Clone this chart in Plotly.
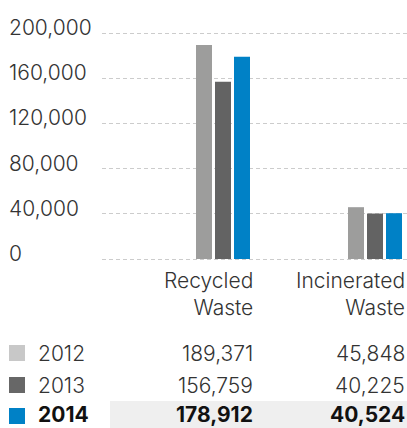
import plotly.graph_objects as go

# Waste volumes by year and category
categories = ["Recycled Waste", "Incinerated Waste"]
category_lines = [["Recycled", "Waste"], ["Incinerated", "Waste"]]
years = ["2012", "2013", "2014"]
values_2012 = [189371, 45848]
values_2013 = [156759, 40225]
values_2014 = [178912, 40524]
y_ticks = [0, 40000, 80000, 120000, 160000, 200000]

series = [values_2012, values_2013, values_2014]
bar_colors = ["#9d9d9c", "#636363", "#0081c6"]
swatch_colors = ["#c8c8c8", "#676767", "#0081c6"]

W, H = 407, 428
L = 102
ZERO_PX, TOP_PX = 259, 33          # pixel rows of the 0 and 200,000 gridlines
PAD = 3                            # extra room so edge gridlines are drawn
UNIT = 200000 / (ZERO_PX - TOP_PX)
T = TOP_PX - PAD
PLOT_H = ZERO_PX - TOP_PX + 2 * PAD
B = H - T - PLOT_H
PLOT_W = W - L
FONT = "Inter"
TXT = "#333333"
SIZE = 21


def px_x(px):
    return (px - L) / PLOT_W


def px_y(py):
    return (T + PLOT_H - py) / PLOT_H


fig = go.Figure()
for yr, vals, col in zip(years, series, bar_colors):
    fig.add_bar(x=[0, 1], y=vals, name=yr, marker=dict(color=col, line=dict(width=0)))

annotations = []
# y tick labels, left aligned, sitting on their gridlines
for t in y_ticks:
    annotations.append(dict(
        x=px_x(7), xref="paper", y=t, yref="y", text=f"{t:,}",
        xanchor="left", yanchor="bottom", yshift=-9, showarrow=False,
        font=dict(family=FONT, size=SIZE, color=TXT, weight=300)))

# category headers, right aligned under each group
for i, lines in enumerate(category_lines):
    annotations.append(dict(
        x=i, xref="x", y=px_y(294), yref="paper", text="<br>".join(lines),
        xanchor="right", yanchor="middle", align="right", xshift=32,
        showarrow=False,
        font=dict(family=FONT, size=SIZE, color=TXT, weight=300)))

# table rows
row_centers = [353, 385, 415]
shapes = [dict(type="rect", xref="paper", yref="paper",
               x0=px_x(110), x1=1.0, y0=px_y(428), y1=px_y(401),
               fillcolor="#efefef", line=dict(width=0), layer="below")]
for r, (yr, vals, sw) in enumerate(zip(years, series, swatch_colors)):
    cy = row_centers[r]
    bold = r == len(years) - 1
    weight = 700 if bold else 300
    color = "#111111" if bold else TXT
    sq = cy + 1 if bold else cy
    shapes.append(dict(type="rect", xref="paper", yref="paper",
                       x0=px_x(9), x1=px_x(25), y0=px_y(sq + 8), y1=px_y(sq - 8),
                       fillcolor=sw, line=dict(width=0)))
    annotations.append(dict(
        x=px_x(36), xref="paper", y=px_y(cy), yref="paper", text=yr,
        xanchor="left", yanchor="middle", showarrow=False,
        font=dict(family=FONT, size=SIZE, color=color, weight=weight)))
    for i, v in enumerate(vals):
        annotations.append(dict(
            x=i, xref="x", y=px_y(cy), yref="paper", text=f"{v:,}",
            xanchor="right", yanchor="middle", xshift=32, showarrow=False,
            font=dict(family=FONT, size=SIZE, color=color, weight=weight)))

fig.update_layout(
    width=W, height=H,
    margin=dict(l=L, r=0, t=T, b=B, pad=0),
    paper_bgcolor="white", plot_bgcolor="white",
    barmode="group", bargap=0.625, bargroupgap=0.158,
    showlegend=False,
    xaxis=dict(range=[-121 / 152, 1 + 32 / 152], showticklabels=False,
               showgrid=False, zeroline=False, showline=False, ticks=""),
    yaxis=dict(range=[-PAD * UNIT, 200000 + PAD * UNIT], tickvals=y_ticks,
               showticklabels=False,
               showgrid=True, gridcolor="#cccccc", griddash="4px,3px",
               gridwidth=1, zeroline=False, showline=False, ticks=""),
    annotations=annotations, shapes=shapes,
)

fig.write_html("out.html")
